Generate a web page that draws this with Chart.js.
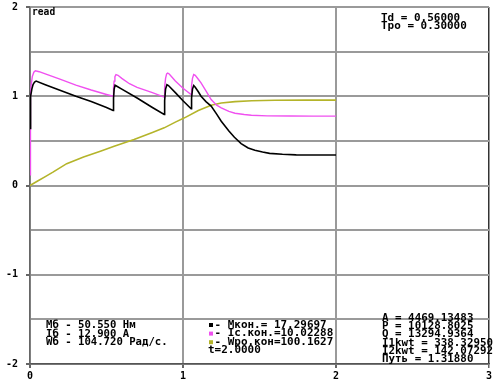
<!DOCTYPE html>
<html><head><meta charset="utf-8">
<script src="https://cdn.jsdelivr.net/npm/chart.js@4/dist/chart.umd.min.js"></script>
<style>html,body{margin:0;padding:0;background:#fff}</style>
</head><body>
<canvas id="c" width="498" height="382"></canvas>
<script>
// ---- data ----
const tM = [0,0.002,0.006,0.012,0.02,0.03,0.04,0.1,0.2,0.3,0.4,0.5,0.543,0.546,0.55,0.556,0.565,0.6,0.7,0.8,0.877,0.88,0.886,0.895,0.905,0.95,1.0,1.053,1.056,1.062,1.07,1.08,1.1,1.118,1.15,1.184,1.22,1.25,1.3,1.336,1.38,1.426,1.47,1.52,1.566,1.65,1.74,1.85,2.0];
const vM = [0.64,0.9,1.0,1.08,1.13,1.16,1.17,1.13,1.065,1.0,0.94,0.875,0.84,0.98,1.08,1.123,1.115,1.08,0.98,0.874,0.795,0.95,1.08,1.13,1.12,1.04,0.95,0.86,0.98,1.08,1.12,1.1,1.05,1.0,0.94,0.89,0.8,0.72,0.61,0.54,0.47,0.42,0.395,0.375,0.36,0.35,0.343,0.342,0.342];
const tI = [0,0.002,0.004,0.008,0.015,0.025,0.035,0.06,0.1,0.2,0.3,0.4,0.5,0.543,0.546,0.55,0.555,0.562,0.575,0.6,0.65,0.7,0.8,0.877,0.88,0.886,0.893,0.9,0.91,0.95,1.0,1.053,1.056,1.062,1.07,1.08,1.1,1.118,1.15,1.184,1.22,1.25,1.3,1.34,1.4,1.447,1.55,1.7,1.85,2.0];
const vI = [0.12,0.6,1.0,1.13,1.22,1.27,1.285,1.275,1.25,1.19,1.125,1.07,1.02,1.0,1.1,1.17,1.22,1.243,1.235,1.2,1.14,1.1,1.04,0.99,1.1,1.2,1.25,1.26,1.25,1.17,1.09,1.02,1.12,1.2,1.243,1.235,1.19,1.15,1.06,0.963,0.9,0.87,0.83,0.81,0.795,0.787,0.78,0.778,0.777,0.777];
const tW = [0,0.05,0.1,0.15,0.24,0.35,0.46,0.55,0.68,0.8,0.877,0.95,1.01,1.1,1.184,1.25,1.34,1.45,1.6,1.8,2.0];
const vW = [0,0.05,0.1,0.15,0.245,0.32,0.385,0.44,0.515,0.595,0.646,0.71,0.758,0.84,0.9,0.925,0.94,0.95,0.955,0.957,0.957];

const xTicks = [0,1,2,3];
const yTicks = [-2,-1,0,1,2];

const titleText = 'read';
const paramText = ['Td = 0.56000','Tpo = 0.30000'];
const baseText = ['Мб - 50.550 Нм','Iб - 12.900 А','Wб - 104.720 Рад/с.'];
const legendText = ['- Мкон.= 17.29697','- Iс.кон.=10.02288','- Wро.кон=100.1627'];
const timeText = 't=2.0000';
const resultText = ['A = 4469.13483','P = 10128.8025','Q = 13294.9364','I1kwt = 338.32950','I2kwt = 142.07292','Путь = 1.31880'];

const colors = ['#000000','#f050f0','#b4b42a'];

const toPts = (t,v) => t.map((x,i)=>({x:x,y:v[i]}));

const CW = 6.5;
const textPlugin = {
  id:'txt',
  afterDraw(chart){
    const c = chart.ctx;
    c.save();
    c.fillStyle = '#000';
    c.font = 'bold 10px "DejaVu Sans Mono"';
    c.textBaseline = 'middle';
    c.textAlign = 'left';
    function put(s,x,y,cw){
      const w = c.measureText(s).width;
      const target = s.length*(cw||CW);
      c.save(); c.translate(x,y); c.scale(target/w,1); c.fillText(s,0,0); c.restore();
    }
    put(titleText,32,12,5.8);
    paramText.forEach((s,i)=>put(s,381,18+i*8.5,6.6));
    baseText.forEach((s,i)=>put(s,46,325.7+i*8.4,6.4));
    legendText.forEach((s,i)=>{
      const y = 325+i*8.6;
      c.fillStyle = colors[i];
      c.fillRect(209,y-2,4,4);
      c.fillStyle = '#000';
      put(s,214.5,y,6.6);
    });
    put(timeText,208,325+3*8.6,6.6);
    resultText.forEach((s,i)=>put(s,382,318.5+i*8.2,6.53));
    c.restore();
  }
};

new Chart(document.getElementById('c'),{
  type:'line',
  data:{datasets:[
    {data:toPts(tM,vM),borderColor:colors[0],borderWidth:1.6},
    {data:toPts(tI,vI),borderColor:colors[1],borderWidth:1.4},
    {data:toPts(tW,vW),borderColor:colors[2],borderWidth:1.6}
  ]},
  options:{
    responsive:false,animation:false,
    layout:{padding:{top:7,right:9,left:0,bottom:0}},
    plugins:{legend:{display:false},tooltip:{enabled:false}},
    elements:{point:{radius:0},line:{tension:0}},
    scales:{
      x:{type:'linear',min:0,max:3,
        afterFit(s){s.height=18;s.paddingLeft=0;s.paddingRight=0;},
        afterBuildTicks(s){s.ticks=xTicks.map(v=>({value:v}));},
        ticks:{color:'#000',font:{family:'"DejaVu Sans Mono"',weight:'bold',size:10},padding:2,maxRotation:0},
        grid:{color:ctx=>ctx.tick&&ctx.tick.value===3?'#333':'#9a9a9a',lineWidth:ctx=>ctx.tick&&ctx.tick.value===3?1.5:2,tickLength:4,tickColor:'#666'},
        border:{color:'#555',width:1.5}
      },
      y:{min:-2,max:2,
        afterFit(s){s.width=30;s.paddingTop=0;s.paddingBottom=0;},
        afterBuildTicks(s){const a=[];for(let v=-2;v<=2.001;v+=0.5)a.push({value:Math.round(v*2)/2});s.ticks=a;},
        ticks:{color:'#000',font:{family:'"DejaVu Sans Mono"',weight:'bold',size:10},padding:8,
          callback:v=>yTicks.includes(v)?String(v):''},
        grid:{color:'#9a9a9a',lineWidth:2,tickLength:4,tickColor:ctx=>ctx.tick&&Number.isInteger(ctx.tick.value)?'#666':'rgba(0,0,0,0)'},
        border:{color:'#666',width:1.5}
      }
    }
  },
  plugins:[textPlugin]
});
</script>
</body></html>
